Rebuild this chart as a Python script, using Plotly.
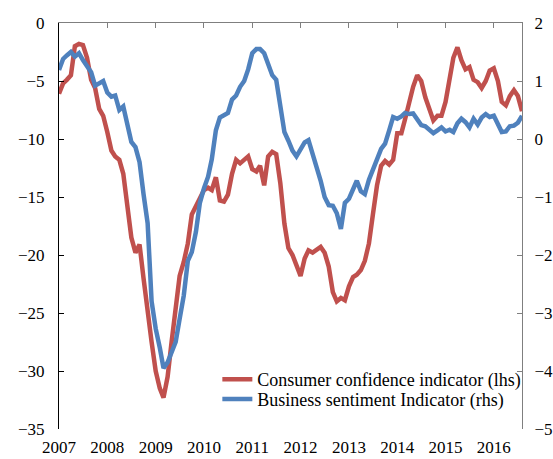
import pandas as pd
import plotly.graph_objects as go

# Monthly observations, Jan 2007 - Aug 2016
months = pd.date_range("2007-01-01", periods=116, freq="MS")

consumer_confidence = [
    -6.1, -5.2, -4.9, -4.5, -2.0, -1.8, -1.9, -3.0, -4.9, -5.6,
    -7.4, -8.0, -9.4, -11.0, -11.5, -11.8, -13.0, -15.8, -18.5, -19.8,
    -19.1, -22.0, -25.0, -27.5, -30.0, -31.5, -32.3, -30.5, -27.5, -24.5,
    -21.8, -20.6, -19.0, -16.5, -15.8, -15.3, -14.4, -14.2, -14.4, -13.3,
    -15.3, -15.4, -14.8, -13.0, -11.8, -12.1, -11.8, -11.5, -12.6, -12.8,
    -12.3, -14.0, -11.5, -11.1, -11.3, -13.8, -17.3, -19.4, -20.0, -20.9,
    -21.8, -20.3, -19.6, -19.8, -19.6, -19.3, -19.8, -21.0, -23.2, -24.0,
    -23.7, -23.9, -22.7, -21.9, -21.7, -21.3, -20.5, -19.0, -16.5, -14.0,
    -12.3, -11.9, -12.2, -11.8, -9.5, -9.5, -8.3, -6.7, -5.5, -4.5,
    -5.0, -6.4, -7.3, -8.4, -8.0, -8.0, -6.8, -5.0, -3.0, -2.1,
    -3.2, -4.0, -3.8, -4.9, -5.1, -5.6, -5.0, -4.1, -3.9, -5.0,
    -6.8, -7.1, -6.3, -5.8, -6.3, -7.6,
]

business_sentiment = [
    1.19, 1.38, 1.44, 1.50, 1.42, 1.48, 1.36, 1.27, 1.15, 0.92,
    0.95, 1.00, 0.80, 0.73, 0.75, 0.50, 0.56, 0.22, -0.05, -0.14,
    -0.40, -0.95, -1.45, -2.80, -3.27, -3.60, -3.95, -3.85, -3.70, -3.50,
    -3.10, -2.70, -2.10, -1.95, -1.60, -1.10, -0.85, -0.65, -0.35, 0.15,
    0.37, 0.40, 0.45, 0.68, 0.75, 0.90, 1.00, 1.20, 1.48, 1.55,
    1.55, 1.48, 1.30, 1.10, 1.02, 0.55, 0.12, -0.03, -0.20, -0.30,
    -0.17, -0.06, -0.02, -0.25, -0.43, -0.72, -1.00, -1.14, -1.15, -1.28,
    -1.55, -1.10, -1.03, -0.85, -0.72, -0.90, -0.95, -0.70, -0.55, -0.35,
    -0.17, -0.08, 0.15, 0.38, 0.35, 0.39, 0.45, 0.43, 0.44, 0.33,
    0.24, 0.22, 0.17, 0.10, 0.15, 0.20, 0.13, 0.16, 0.12, 0.27,
    0.35, 0.29, 0.20, 0.35, 0.25, 0.37, 0.43, 0.38, 0.40, 0.27,
    0.12, 0.13, 0.22, 0.23, 0.28, 0.40,
]

year_ticks = list(range(2007, 2017))
left_ticks = [0, -5, -10, -15, -20, -25, -30, -35]
right_ticks = [2, 1, 0, -1, -2, -3, -4, -5]

RED = "#C0504D"
BLUE = "#4F81BD"
FONT = "Liberation Serif"

tick_dates = [pd.Timestamp(f"{y}-01-01") for y in year_ticks]
tick_text = [str(y) for y in year_ticks]
xrange = [months[0], months[-1]]

fig = go.Figure()
fig.add_trace(go.Scatter(
    x=months, y=consumer_confidence, mode="lines",
    name="Consumer confidence indicator (lhs)",
    line=dict(color=RED, width=4.5), yaxis="y", legend="legend",
))
fig.add_trace(go.Scatter(
    x=months, y=business_sentiment, mode="lines",
    name="Business sentiment Indicator (rhs)",
    line=dict(color=BLUE, width=4.5), yaxis="y2", legend="legend2",
))
# invisible helper on the top axis so it is drawn
fig.add_trace(go.Scatter(
    x=[months[0]], y=[None], xaxis="x2", yaxis="y",
    showlegend=False, hoverinfo="skip", mode="lines",
))

legend_style = dict(
    xanchor="left", yanchor="middle",
    bgcolor="rgba(0,0,0,0)", font=dict(family=FONT, size=18),
    itemwidth=30,
)

fig.update_layout(
    width=553, height=459,
    margin=dict(l=58.5, r=31, t=23, b=29.5, autoexpand=False),
    paper_bgcolor="white", plot_bgcolor="white",
    font=dict(family=FONT, size=17, color="black"),
    showlegend=True,
    legend=dict(x=0.342, y=0.122, **legend_style),
    legend2=dict(x=0.342, y=0.073, **legend_style),
    xaxis=dict(
        range=xrange, tickvals=tick_dates, ticktext=tick_text,
        showline=False, ticks="", showgrid=False, zeroline=False,
        ticklabelstandoff=6, automargin=False,
    ),
    xaxis2=dict(
        overlaying="x", side="top", anchor="y", range=xrange,
        tickvals=tick_dates, showticklabels=False,
        showline=True, linecolor="#7f7f7f", linewidth=1,
        ticks="inside", ticklen=5, tickcolor="#7f7f7f",
        showgrid=False, zeroline=False, automargin=False,
    ),
    yaxis=dict(
        range=[-35, 0], tickvals=left_ticks,
        showline=True, linecolor="black", linewidth=1,
        ticks="inside", ticklen=5, tickcolor="black",
        showgrid=False, zeroline=False, ticklabelstandoff=10,
        automargin=False,
    ),
    yaxis2=dict(
        range=[-5, 2], tickvals=right_ticks, overlaying="y", side="right",
        showline=True, linecolor="#7f7f7f", linewidth=1,
        ticks="inside", ticklen=5, tickcolor="#7f7f7f",
        showgrid=False, zeroline=False, ticklabelstandoff=8,
        automargin=False,
    ),
)

fig.write_html(
    "out.html",
    config={"displayModeBar": False},
    post_script="document.body.style.margin='0';document.body.style.overflow='hidden';",
)
